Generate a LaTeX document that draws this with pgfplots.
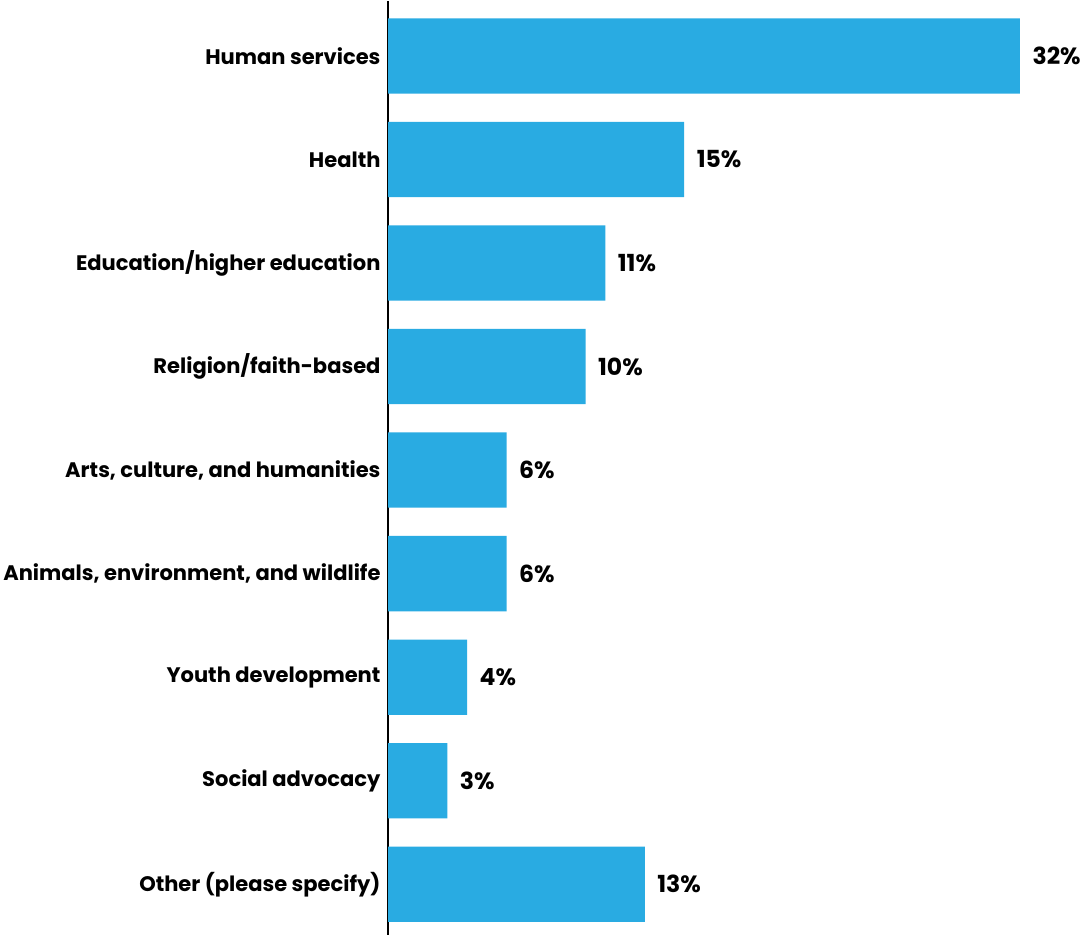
\documentclass[border=0pt]{standalone}
\usepackage{fontspec}
\setmainfont{Poppins}
\usepackage{pgfplots}
\pgfplotsset{compat=1.18}
\definecolor{barblue}{RGB}{41,171,226}
\begin{document}
\begin{tikzpicture}
\begin{axis}[
  scale only axis,
  width=692bp, height=930bp,
  xbar, bar width=0.727,
  bar shift=0pt,
  y dir=reverse,
  xmin=0, xmax=35.2,
  ymin=-0.533, ymax=8.49,
  axis x line=none,
  axis y line=left,
  axis line style={-, line width=1.5bp, black},
  ytick={0,...,8},
  yticklabels={Human services, Health, Education/higher education, Religion/faith-based, {Arts, culture, and humanities}, {Animals, environment, and wildlife}, Youth development, Social advocacy, Other (please specify)},
  yticklabel style={font=\fontsize{21}{24}\selectfont\bfseries, xshift=-4bp},
  major tick length=0pt,
  clip=false,
  /pgf/number format/assume math mode=true,
  nodes near coords={\pgfmathprintnumber{\pgfplotspointmeta}\%},
  nodes near coords style={font=\fontsize{23.5}{26}\selectfont\bfseries, anchor=west, xshift=9bp},
  point meta=x,
]
\addplot[fill=barblue, draw=none] coordinates {
  (32,0) (15,1) (11,2) (10,3) (6,4) (6,5) (4,6) (3,7) (13,8)
};
\end{axis}
\end{tikzpicture}
\end{document}
